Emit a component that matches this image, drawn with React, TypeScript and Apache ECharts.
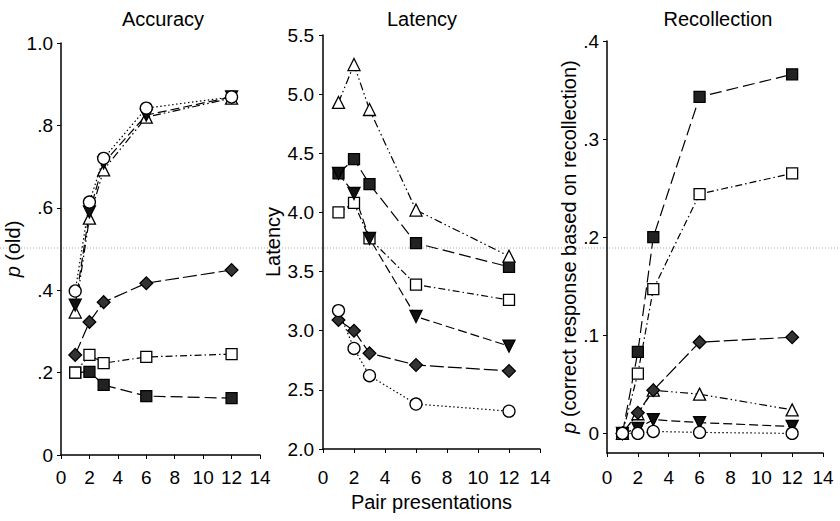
import React, { useEffect, useRef } from "react";
import * as echarts from "echarts";

const xValues = [1, 2, 3, 6, 12];
const titles = ["Accuracy", "Latency", "Recollection"];

// Accuracy p(old)
const accCircle = [0.398, 0.614, 0.72, 0.842, 0.869];
const accInvTri = [0.364, 0.59, 0.709, 0.825, 0.869];
const accOpenTri = [0.347, 0.575, 0.692, 0.82, 0.866];
const accFillSq = [0.2, 0.202, 0.17, 0.143, 0.138];
const accOpenSq = [0.2, 0.243, 0.223, 0.238, 0.245];
const accDiamond = [0.243, 0.323, 0.371, 0.417, 0.449];

// Latency
const latCircle = [3.17, 2.85, 2.62, 2.38, 2.32];
const latInvTri = [4.33, 4.16, 3.78, 3.12, 2.87];
const latOpenTri = [4.93, 5.25, 4.87, 4.02, 3.63];
const latFillSq = [4.33, 4.45, 4.24, 3.74, 3.54];
const latOpenSq = [4.0, 4.08, 3.78, 3.39, 3.26];
const latDiamond = [3.09, 3.0, 2.81, 2.71, 2.66];

// Recollection
const recCircle = [0, 0, 0.002, 0.001, 0];
const recInvTri = [0, 0.005, 0.014, 0.011, 0.007];
const recOpenTri = [0, 0.02, 0.044, 0.04, 0.024];
const recFillSq = [0, 0.083, 0.2, 0.343, 0.366];
const recOpenSq = [0, 0.061, 0.147, 0.244, 0.265];
const recDiamond = [0, 0.021, 0.044, 0.093, 0.098];

const recTicks = [0, 0.1, 0.2, 0.3, 0.4];

const FONT = "'Liberation Sans', Arial, Helvetica, sans-serif";

type Style = {
  symbol: string;
  size: number;
  rotate: number;
  fill: string;
  dash: number[];
};

const styles: Record<string, Style> = {
  circle: { symbol: "circle", size: 12, rotate: 0, fill: "#fff", dash: [1.5, 2.5] },
  invTri: { symbol: "triangle", size: 12, rotate: 180, fill: "#111", dash: [9, 4] },
  openTri: { symbol: "triangle", size: 12, rotate: 0, fill: "#fff", dash: [8, 3, 1.5, 3, 1.5, 3] },
  fillSq: { symbol: "rect", size: 11, rotate: 0, fill: "#222", dash: [12, 5] },
  openSq: { symbol: "rect", size: 11, rotate: 0, fill: "#fff", dash: [7, 3, 1.5, 3] },
  diamond: { symbol: "rect", size: 9, rotate: 45, fill: "#333", dash: [14, 4] },
};

const panels = [
  {
    circle: accCircle, invTri: accInvTri, openTri: accOpenTri,
    fillSq: accFillSq, openSq: accOpenSq, diamond: accDiamond,
  },
  {
    circle: latCircle, invTri: latInvTri, openTri: latOpenTri,
    fillSq: latFillSq, openSq: latOpenSq, diamond: latDiamond,
  },
  {
    circle: recCircle, invTri: recInvTri, openTri: recOpenTri,
    fillSq: recFillSq, openSq: recOpenSq, diamond: recDiamond,
  },
];

const order = ["fillSq", "openSq", "openTri", "invTri", "diamond", "circle"];

export default function App() {
  const ref = useRef<HTMLDivElement>(null);
  useEffect(() => {
    if (!ref.current) return;
    const chart = echarts.init(ref.current, null, { renderer: "svg" });

    const grids = [
      { left: 61, top: 43, width: 199, height: 412 },
      { left: 323, top: 35, width: 217, height: 414 },
      { left: 607, top: 41, width: 216, height: 412 },
    ];
    const xMargins = [13, 19, 15];

    const axisLine = { show: true, onZero: false, lineStyle: { color: "#000", width: 1.5 } };
    const axisTick = { show: true, inside: false, length: 4, lineStyle: { color: "#000", width: 1 } };
    const FS = 19;
    const labelStyle = { color: "#000", fontSize: FS, fontFamily: FONT };

    const xAxes = grids.map((_, i) => ({
      type: "value",
      gridIndex: i,
      min: 0,
      max: 14,
      interval: 2,
      splitLine: { show: false },
      axisLine,
      axisTick,
      axisLabel: { ...labelStyle, margin: xMargins[i], showMaxLabel: true, showMinLabel: true },
      name: i === 1 ? "Pair presentations" : "",
      nameLocation: "middle",
      nameGap: 40,
      nameTextStyle: { color: "#000", fontSize: 20, fontFamily: FONT },
    }));

    const pFmt = (v: number) => {
      if (v === 0) return "0";
      if (v === 1) return "1.0";
      return "." + String(Math.round(v * 10));
    };

    const yAxes = [
      {
        type: "value", gridIndex: 0, min: 0, max: 1, interval: 0.2,
        splitLine: { show: false }, axisLine, axisTick,
        axisLabel: { ...labelStyle, margin: 8, formatter: pFmt },
        name: "{i|p} (old)", nameLocation: "middle", nameGap: 35, nameRotate: 90,
        nameTextStyle: {
          color: "#000", fontSize: 20, fontFamily: FONT,
          rich: { i: { fontStyle: "italic", fontSize: 20, fontFamily: FONT, color: "#000" } },
        },
      },
      {
        type: "value", gridIndex: 1, min: 2, max: 5.5, interval: 0.5,
        splitLine: { show: false }, axisLine, axisTick,
        axisLabel: { ...labelStyle, margin: 9, formatter: (v: number) => v.toFixed(1) },
        name: "Latency", nameLocation: "middle", nameGap: 40, nameRotate: 90,
        nameTextStyle: { color: "#000", fontSize: 20, fontFamily: FONT },
      },
      {
        type: "value", gridIndex: 2, min: -0.02, max: 0.4,
        splitLine: { show: false }, axisLine,
        axisTick: { ...axisTick, customValues: recTicks },
        axisLabel: { ...labelStyle, margin: 8, formatter: pFmt, customValues: recTicks },
        name: "{i|p} (correct response based on recollection)", nameLocation: "middle", nameGap: 28, nameRotate: 90,
        nameTextStyle: {
          color: "#000", fontSize: 20, fontFamily: FONT,
          rich: { i: { fontStyle: "italic", fontSize: 20, fontFamily: FONT, color: "#000" } },
        },
      },
    ];

    const series: any[] = [];
    panels.forEach((p: any, gi) => {
      order.forEach((key) => {
        const st = styles[key];
        series.push({
          type: "line",
          xAxisIndex: gi,
          yAxisIndex: gi,
          data: xValues.map((x, k) => [x, p[key][k]]),
          symbol: st.symbol,
          symbolSize: st.size,
          symbolRotate: st.rotate,
          showAllSymbol: true,
          lineStyle: { color: "#000", width: 1.2, type: st.dash },
          itemStyle: { color: st.fill, borderColor: "#000", borderWidth: 1.3 },
          emphasis: { disabled: true },
          z: 3,
        });
      });
    });

    const titleCenters = [158, 417, 713];
    const option: any = {
      animation: false,
      backgroundColor: "#fff",
      grid: grids.map((g) => ({ ...g, containLabel: false })),
      xAxis: xAxes,
      yAxis: yAxes,
      title: titles.map((t, i) => ({
        text: t,
        left: titleCenters[i],
        top: 4,
        textAlign: "center",
        textStyle: { color: "#000", fontSize: 20, fontWeight: "normal", fontFamily: FONT },
      })),
      graphic: [
        {
          type: "line",
          shape: { x1: 0, y1: 248, x2: 840, y2: 248 },
          style: { stroke: "#aaa", lineWidth: 1, lineDash: [1, 2] },
          z: 0,
          silent: true,
        },
      ],
      series,
    };
    chart.setOption(option);
    return () => chart.dispose();
  }, []);
  return (
    <div
      ref={ref}
      style={{ position: "fixed", left: 0, top: 0, width: 840, height: 521, background: "#fff" }}
    />
  );
}
